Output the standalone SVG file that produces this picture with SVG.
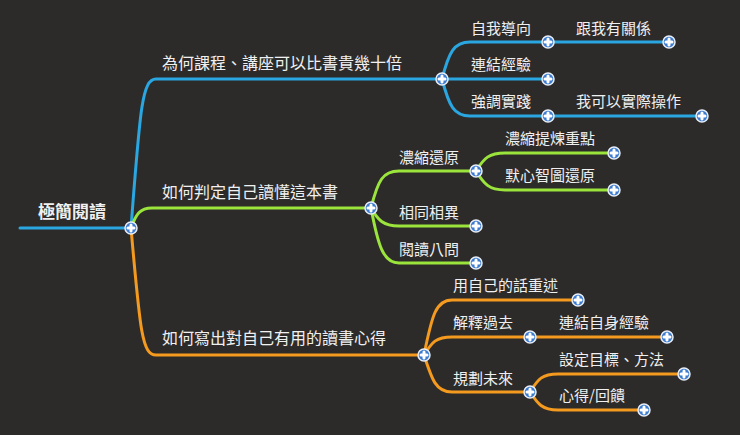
<svg xmlns="http://www.w3.org/2000/svg" width="740" height="435" viewBox="0 0 740 435">
<defs>
<style>
.b{stroke:#2aa6e0}.g{stroke:#9ae43c}.o{stroke:#f39a1f}
path{fill:none;stroke-width:3;stroke-linecap:round}
text{fill:#f0f0f0;font-family:"Noto Sans CJK TC","Noto Sans CJK SC",sans-serif;font-size:15px;dominant-baseline:central}
.m{font-size:16px}.r{font-size:17px;font-weight:bold}
</style>
<g id="dot"><circle r="6" fill="#3b7bcf" stroke="#e8eef8" stroke-width="1.5"/><path d="M-3,0H3M0,-3V3" stroke="#fff" stroke-width="1.6" stroke-linecap="butt"/></g>
</defs>
<rect width="740" height="435" fill="#2c2b2a"/>
<g id="connectors">
<path class="b" d="M20,228H131"/>
<path class="b" d="M131,228C140,110 142,79 156,79H442"/>
<path class="g" d="M131,228C136,214 140,208 152,208H371"/>
<path class="o" d="M131,228C140,330 142,355 156,355H424"/>
<path class="b" d="M442,79C449,52 454,42 470,42H669"/>
<path class="b" d="M442,79H548"/>
<path class="b" d="M442,79C449,106 454,116 470,116H702"/>
<path class="g" d="M371,208C378,180 383,171 399,171H476"/>
<path class="g" d="M371,208C378,220 383,226 399,226H476"/>
<path class="g" d="M371,208C378,245 383,263 399,263H476"/>
<path class="g" d="M476,171C484,158 489,153 505,153H614"/>
<path class="g" d="M476,171C484,184 489,190 505,190H614"/>
<path class="o" d="M424,355C432,315 436,300 452,300H578"/>
<path class="o" d="M424,355C432,342 436,337 452,337H667"/>
<path class="o" d="M424,355C432,380 436,392 452,392H530"/>
<path class="o" d="M530,392C538,379 542,374 558,374H684"/>
<path class="o" d="M530,392C538,404 542,410 558,410H644"/>
</g>
<g id="root"><text class="r" x="38" y="210">極簡閱讀</text><use href="#dot" x="131" y="228"/></g>
<g id="n1"><text class="m" x="162" y="62">為何課程、講座可以比書貴幾十倍</text><use href="#dot" x="442" y="79"/></g>
<g id="n11"><text x="471" y="27">自我導向</text><use href="#dot" x="548" y="42"/></g>
<g id="n111"><text x="576" y="27">跟我有關係</text><use href="#dot" x="669" y="42"/></g>
<g id="n12"><text x="471" y="63">連結經驗</text><use href="#dot" x="548" y="79"/></g>
<g id="n13"><text x="471" y="100">強調實踐</text><use href="#dot" x="548" y="116"/></g>
<g id="n131"><text x="576" y="100">我可以實際操作</text><use href="#dot" x="702" y="116"/></g>
<g id="n2"><text class="m" x="162" y="191">如何判定自己讀懂這本書</text><use href="#dot" x="371" y="208"/></g>
<g id="n21"><text x="399" y="156">濃縮還原</text><use href="#dot" x="476" y="171"/></g>
<g id="n211"><text x="505" y="137">濃縮提煉重點</text><use href="#dot" x="614" y="153"/></g>
<g id="n212"><text x="505" y="174">默心智圖還原</text><use href="#dot" x="614" y="190"/></g>
<g id="n22"><text x="399" y="211">相同相異</text><use href="#dot" x="476" y="226"/></g>
<g id="n23"><text x="399" y="248">閱讀八問</text><use href="#dot" x="476" y="263"/></g>
<g id="n3"><text class="m" x="162" y="337">如何寫出對自己有用的讀書心得</text><use href="#dot" x="424" y="355"/></g>
<g id="n31"><text x="453" y="284">用自己的話重述</text><use href="#dot" x="578" y="300"/></g>
<g id="n32"><text x="453" y="321">解釋過去</text><use href="#dot" x="530" y="337"/></g>
<g id="n321"><text x="559" y="321">連結自身經驗</text><use href="#dot" x="667" y="337"/></g>
<g id="n33"><text x="453" y="377">規劃未來</text><use href="#dot" x="530" y="392"/></g>
<g id="n331"><text x="559" y="358">設定目標、方法</text><use href="#dot" x="684" y="374"/></g>
<g id="n332"><text x="559" y="394">心得/回饋</text><use href="#dot" x="644" y="410"/></g>
</svg>
